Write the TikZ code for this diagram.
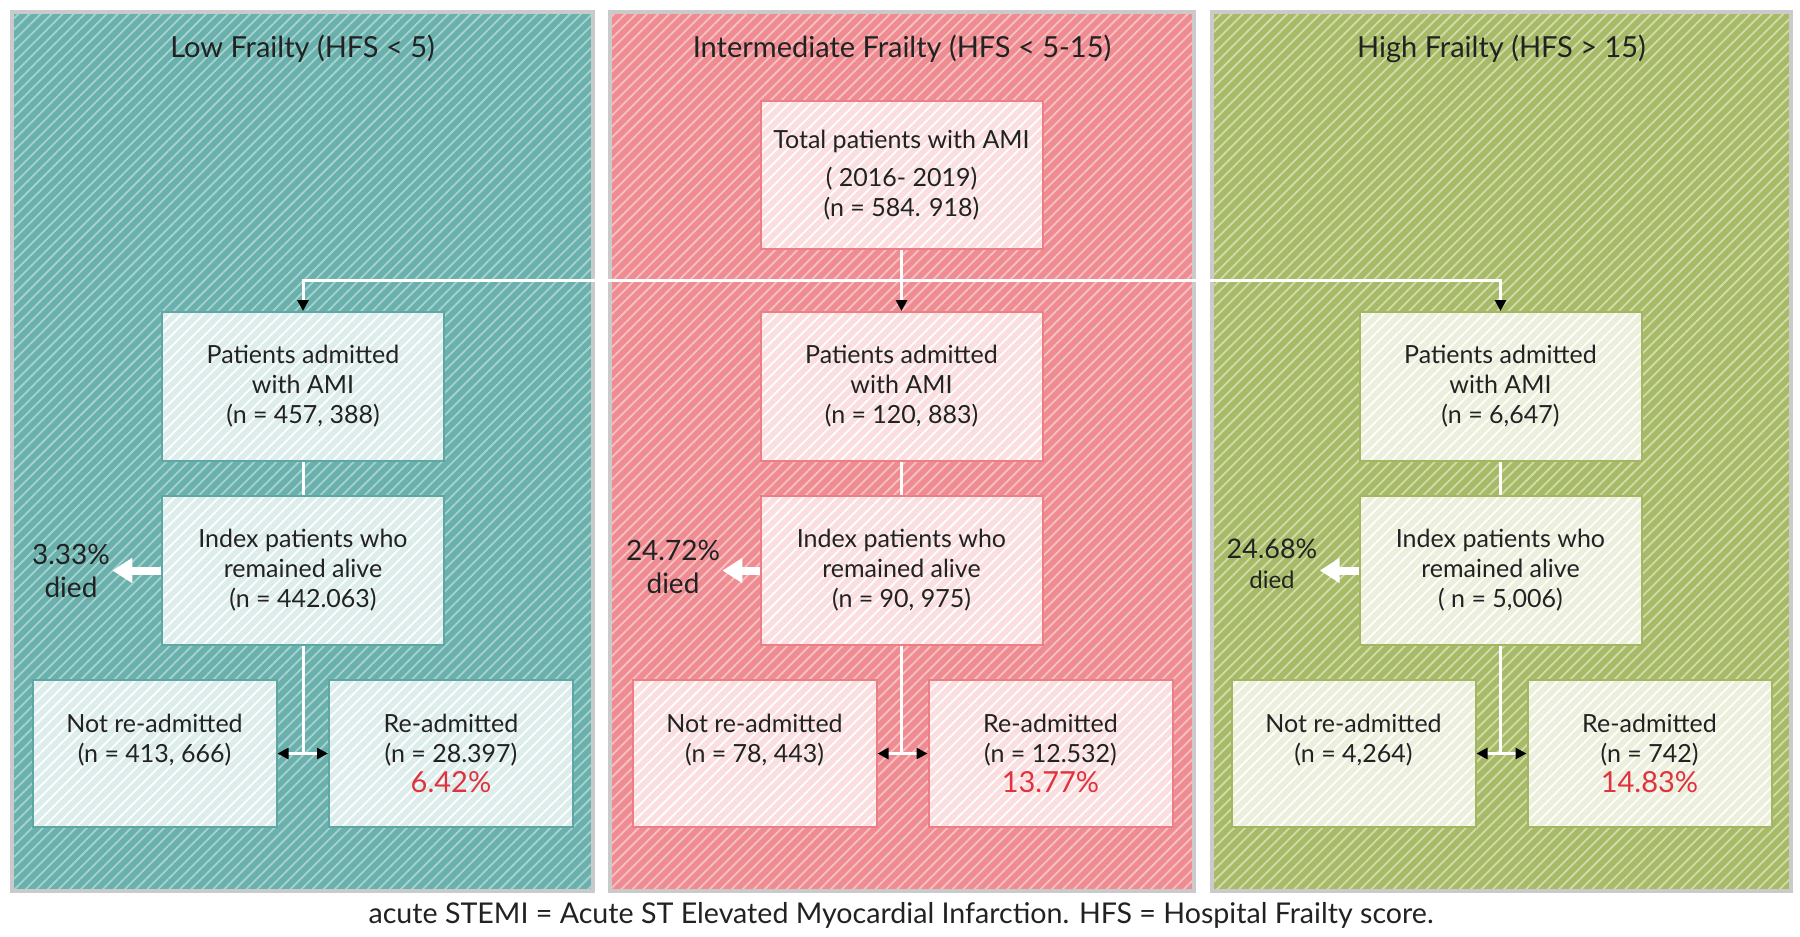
\documentclass[tikz,border=0pt]{standalone}
\usepackage{fontspec}
\setmainfont{Lato}
\usepackage{tikz}
\usetikzlibrary{arrows.meta,patterns.meta,positioning}

\definecolor{lowfill}{HTML}{6AB0AC}
\definecolor{lowline}{HTML}{A6D2CF}
\definecolor{lowbox}{HTML}{DCEDEC}
\definecolor{lowedge}{HTML}{5EA7A2}
\definecolor{midfill}{HTML}{EE8C92}
\definecolor{midline}{HTML}{F7C0C3}
\definecolor{midbox}{HTML}{FBDFE0}
\definecolor{midedge}{HTML}{EC7F86}
\definecolor{highfill}{HTML}{A7BA68}
\definecolor{highline}{HTML}{D2DCA9}
\definecolor{highbox}{HTML}{ECEFDC}
\definecolor{highedge}{HTML}{A3B763}
\definecolor{panelgray}{HTML}{CACACA}
\definecolor{pctred}{HTML}{E0323C}
\definecolor{ink}{HTML}{222222}

\newcommand{\boxfont}{\fontsize{12.5}{15}\selectfont}
\newcommand{\pctfont}{\fontsize{14.5}{17}\selectfont}

\begin{document}
\begin{tikzpicture}[x=0.5pt, y=-0.5pt,
    stripes/.style={pattern={Lines[angle=45,distance=3.9pt,line width=0.9pt]}, pattern color=#1},
    panel/.style={draw=panelgray, line width=2pt, stripes=#1line, preaction={fill=#1fill}},
    title/.style={text=ink, font=\fontsize{14.5}{17}\selectfont},
    box/.style={draw=#1edge, line width=1pt, stripes=white, preaction={fill=#1box},
      text=ink, align=center, font=\boxfont, inner sep=0pt},
    upper/.style={minimum width=141pt, minimum height=74.5pt},
    lower/.style={minimum width=122pt, minimum height=73.5pt},
    died/.style={text=ink, align=center, font=\fontsize{14}{16.5}\selectfont, inner sep=1pt},
    wline/.style={draw=white, line width=1.5pt},
    darr/.tip={Triangle[length=5.5pt,width=5.5pt,color=black]},
    deadarrow/.style={draw=white, line width=4pt, -{Triangle[length=10pt,width=12pt]}}]
  \useasboundingbox (0,0) rectangle (1800,937);
  \fill[white] (0,0) rectangle (1800,937);

  \path[panel=low] (12,12) rectangle (593,891);
  \path[panel=mid] (610,12) rectangle (1194,891);
  \path[panel=high] (1212,12) rectangle (1791,891);

  \node[title] (lowtitle) at (302.5,49) {Low Frailty (HFS < 5)};
  \node[title] (midtitle) at (902,49) {Intermediate Frailty (HFS < 5-15)};
  \node[title] (hightitle) at (1501.5,49) {High Frailty (HFS > 15)};

  \node[box=mid, upper, minimum height=74pt] (total) at (901.5,175)
    {Total patients with AMI\\[4pt]( 2016- 2019)\\(n = 584. 918)};

  \node[box=low, upper] (adm1) at (303,386.5) {Patients admitted\\with AMI\\(n = 457, 388)};
  \node[box=mid, upper] (adm2) at (901.5,386.5) {Patients admitted\\with AMI\\(n = 120, 883)};
  \node[box=high, upper] (adm3) at (1500.5,386.5) {Patients admitted\\with AMI\\(n = 6,647)};

  \node[box=low, upper] (alive1) at (303,570.5) {Index patients who\\remained alive\\(n = 442.063)};
  \node[box=mid, upper] (alive2) at (901.5,570.5) {Index patients who\\remained alive\\(n = 90, 975)};
  \node[box=high, upper] (alive3) at (1500.5,570.5) {Index patients who\\remained alive\\( n = 5,006)};

  \node[died] (died1) at (71,571) {3.33\%\\died};
  \node[died] (died2) at (673,567) {24.72\%\\died};
  \node[died, font=\fontsize{13.5}{15}\selectfont] (died3) at (1272,564) {24.68\%\\{\fontsize{12}{14}\selectfont died}};

  \node[box=low, lower] (notre1) at (154.5,753.5) {Not re-admitted\\(n = 413, 666)\\{\pctfont\phantom{0}}};
  \node[box=low, lower] (re1) at (451,753.5) {Re-admitted\\(n = 28.397)\\{\pctfont\color{pctred}6.42\%}};
  \node[box=mid, lower] (notre2) at (754.5,753.5) {Not re-admitted\\(n = 78, 443)\\{\pctfont\phantom{0}}};
  \node[box=mid, lower] (re2) at (1050.5,753.5) {Re-admitted\\(n = 12.532)\\{\pctfont\color{pctred}13.77\%}};
  \node[box=high, lower] (notre3) at (1353.5,753.5) {Not re-admitted\\(n = 4,264)\\{\pctfont\phantom{0}}};
  \node[box=high, lower] (re3) at (1649.5,753.5) {Re-admitted\\(n = 742)\\{\pctfont\color{pctred}14.83\%}};

  \coordinate (split) at (901.5,280);
  \coordinate (fork1) at (303,753.5);
  \coordinate (fork2) at (901.5,753.5);
  \coordinate (fork3) at (1500.5,753.5);

  \draw[wline] (split) -- (1500.5,280);
  \draw[wline, -{darr}] (total) -- (adm2);
  \draw[wline, -{darr}] (split) -| (adm1);
  \draw[wline, -{darr}] (split) -| (adm3);

  \draw[wline] (adm1) -- (alive1);
  \draw[wline] (adm2) -- (alive2);
  \draw[wline] (adm3) -- (alive3);

  \draw[wline] (alive1) -- (fork1);
  \draw[wline] (alive2) -- (fork2);
  \draw[wline] (alive3) -- (fork3);
  \draw[wline, {darr}-{darr}] (notre1) -- (re1);
  \draw[wline, {darr}-{darr}] (notre2) -- (re2);
  \draw[wline, {darr}-{darr}] (notre3) -- (re3);

  \draw[deadarrow] (alive1.west) -- (alive1.west -| died1.east);
  \draw[deadarrow] (alive2.west) -- (alive2.west -| died2.east);
  \draw[deadarrow] (alive3.west) -- (alive3.west -| died3.east);

  \node[text=ink, font=\fontsize{14.3}{17}\selectfont] (caption) at (901,915)
    {acute STEMI = Acute ST Elevated Myocardial Infarction. HFS = Hospital Frailty score.};
\end{tikzpicture}
\end{document}
